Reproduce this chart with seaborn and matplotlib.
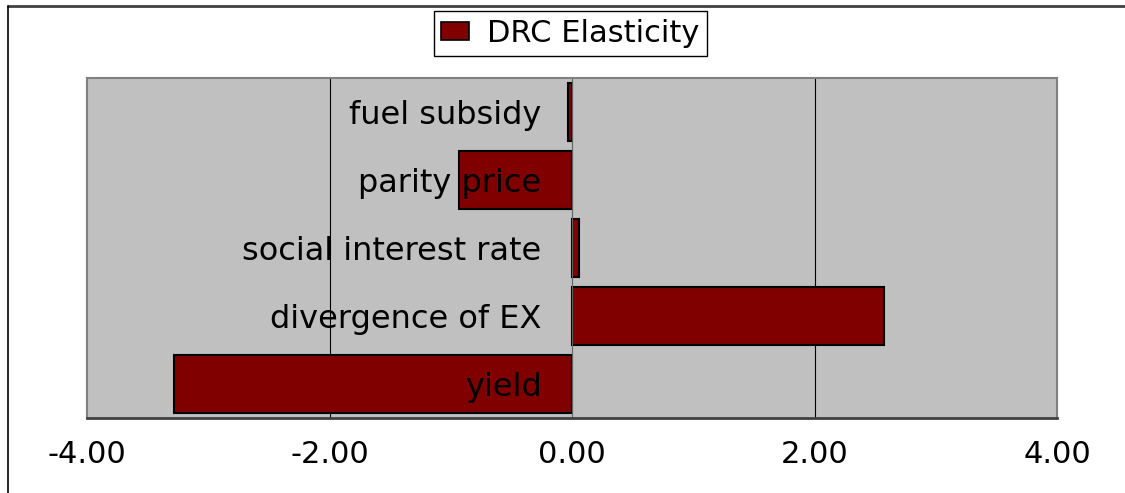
import matplotlib
matplotlib.use("Agg")
import matplotlib.pyplot as plt
from matplotlib.lines import Line2D
from matplotlib.patches import Patch
import seaborn as sns
import pandas as pd

# values (top to bottom)
categories = ["fuel subsidy", "parity price", "social interest rate",
              "divergence of EX", "yield"]
drc_elasticity = [-0.03, -0.93, 0.06, 2.57, -3.28]
x_ticks = [-4, -2, 0, 2, 4]
x_tick_labels = ["-4.00", "-2.00", "0.00", "2.00", "4.00"]
series_name = "DRC Elasticity"

df = pd.DataFrame({"category": categories, "value": drc_elasticity})

sns.set_style("white")
plt.rcParams["font.family"] = ["DejaVu Sans"]
plt.rcParams["text.color"] = "black"
plt.rcParams["xtick.color"] = "black"
plt.rcParams["ytick.color"] = "black"

fig = plt.figure(figsize=(11.25, 4.93), dpi=100)
ax = fig.add_axes([87 / 1125, 1 - 418 / 493, 970 / 1125, 340 / 493])
ax.set_facecolor("#C0C0C0")

sns.barplot(data=df, x="value", y="category", orient="h", color="#800000",
            saturation=1, edgecolor="black", linewidth=1.5, width=0.84, ax=ax)

ax.set_xlim(-4, 4)
ax.set_ylim(4.5, -0.5)
ax.set_xlabel("")
ax.set_ylabel("")

# vertical gridlines
for v in [-2, 2]:
    ax.axvline(v, color="black", lw=0.8, zorder=0)

# x axis
ax.set_xticks(x_ticks)
ax.set_xticklabels(x_tick_labels, fontsize=22)
ax.tick_params(axis="x", direction="out", length=7, width=1, color="#404040",
               labelcolor="black", pad=9)

# y axis crosses at zero, category labels beside it (drawn over the bars)
ax.spines["left"].set_position(("data", 0))
ax.spines["left"].set_color("#606060")
ax.spines["left"].set_linewidth(0.8)
ax.set_yticks(range(len(categories)))
ax.set_yticklabels(categories, fontsize=23)
ax.set_yticks([i - 0.5 for i in range(len(categories) + 1)], minor=True)
ax.tick_params(axis="y", which="major", length=0, pad=22, labelcolor="black")
ax.tick_params(axis="y", which="minor", direction="out", length=10, width=0.8, color="#404040")
ax.yaxis.set_zorder(10)

for s in ["top", "right"]:
    ax.spines[s].set_color("#808080")
    ax.spines[s].set_linewidth(1.5)
ax.spines["bottom"].set_color("#404040")
ax.spines["bottom"].set_linewidth(2)
# plot area left border
ax.axvline(-4, color="#808080", lw=1.5, clip_on=False)

handle = Patch(facecolor="#800000", edgecolor="black", linewidth=1.2)
leg = fig.legend([handle], [series_name], loc="center", bbox_to_anchor=(0.507, 0.932),
                 fontsize=22, frameon=True, fancybox=False, edgecolor="black",
                 framealpha=1, handlelength=0.9, handleheight=0.55, handletextpad=0.6,
                 borderpad=0.25, borderaxespad=0)
leg.get_frame().set_linewidth(1)

# outer chart border
fig.add_artist(Line2D([8 / 1125, 1], [1 - 6 / 493, 1 - 6 / 493], color="#404040", lw=2))
fig.add_artist(Line2D([8 / 1125, 8 / 1125], [0, 1 - 6 / 493], color="black", lw=1.2))

plt.savefig("out.png", dpi=100)
